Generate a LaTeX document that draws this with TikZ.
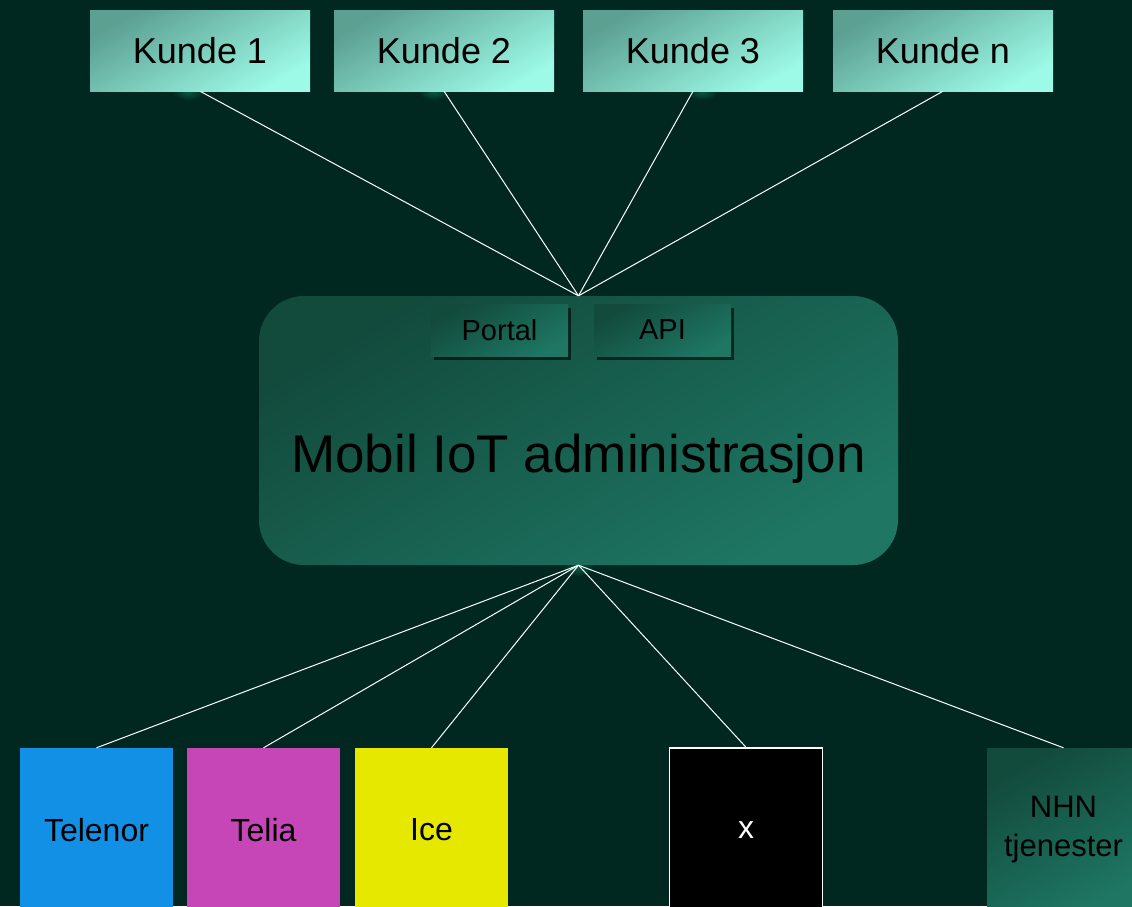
\documentclass[tikz,border=0pt]{standalone}
\usepackage{fontspec}
\setmainfont{Liberation Sans}
\usetikzlibrary{shadows,positioning}
\definecolor{bg}{RGB}{1,40,32}
\definecolor{kdark}{RGB}{92,160,146}
\definecolor{klight}{RGB}{156,250,230}
\definecolor{mdark}{RGB}{18,74,60}
\definecolor{mlight}{RGB}{30,118,99}
\definecolor{telenor}{RGB}{18,144,230}
\definecolor{telia}{RGB}{198,70,184}
\definecolor{ice}{RGB}{230,232,0}
\definecolor{glow}{RGB}{14,110,80}
\tikzset{
  kunde/.style={rectangle, minimum width=220pt, minimum height=81pt, inner sep=0pt,
    top color=kdark, bottom color=klight, shading angle=30, font=\fontsize{36}{40}\selectfont, text=black},
  mainbox/.style={rectangle, rounded corners=45pt, minimum width=639pt, minimum height=269pt, inner sep=0pt,
    top color=mdark, bottom color=mlight, shading angle=30},
  subbox/.style={rectangle, minimum width=137pt, minimum height=52pt, inner sep=0pt,
    top color=mdark, bottom color=mlight, shading angle=30,
    drop shadow={shadow xshift=3pt, shadow yshift=-4pt, opacity=0.6, fill=black},
    font=\fontsize{29}{32}\selectfont, text=black},
  opbox/.style={rectangle, minimum width=153pt, minimum height=164pt, inner sep=0pt,
    font=\fontsize{32}{36}\selectfont, text=black},
  link/.style={draw=white, line width=1pt},
  glowspot/.style={inner color=glow, outer color=bg, opacity=0.7},
}
\begin{document}
\begin{tikzpicture}[x=1pt,y=-1pt]
\fill[bg] (0,0) rectangle (1132,906);
\useasboundingbox (0,0) rectangle (1132,906);
% glows
\foreach \gx/\gy in {188/92,434/92,702/92,578/568}{
  \shade[glowspot] (\gx,\gy) ellipse (16pt and 8pt);
}
\node[kunde] (k1) at (200,50.5) {Kunde 1};
\node[kunde] (k2) at (444,50.5) {Kunde 2};
\node[kunde] (k3) at (693,50.5) {Kunde 3};
\node[kunde] (kn) at (943,50.5) {Kunde n};
\node[mainbox] (m) at (578.5,430.5) {};
\node[font=\fontsize{53}{60}\selectfont, text=black] (mt) at (578.5,459) {Mobil IoT administrasjon};
\node[subbox] (portal) at (499.5,330) {Portal};
\node[subbox] (api) at (662.5,330) {API};
\node[opbox, fill=telenor] (telenor) at (96.5,830) {Telenor};
\node[opbox, fill=telia] (telia) at (263.5,830) {Telia};
\node[opbox, fill=ice] (ice) at (431.5,830) {Ice};
\node[opbox, fill=black, draw=white, line width=1.5pt, text=white] (x) at (746,830) {x};
\node[opbox, top color=mdark, bottom color=mlight, shading angle=30, align=center,
  font=\fontsize{31}{39}\selectfont] (nhn) at (1063.5,830) {NHN\\tjenester};
\foreach \k in {k1,k2,k3,kn}{
  \draw[link] (\k.south) -- (m.north);
}
\foreach \o in {telenor,telia,ice,x,nhn}{
  \draw[link] (m.south) -- (\o.north);
}
\end{tikzpicture}
\end{document}
